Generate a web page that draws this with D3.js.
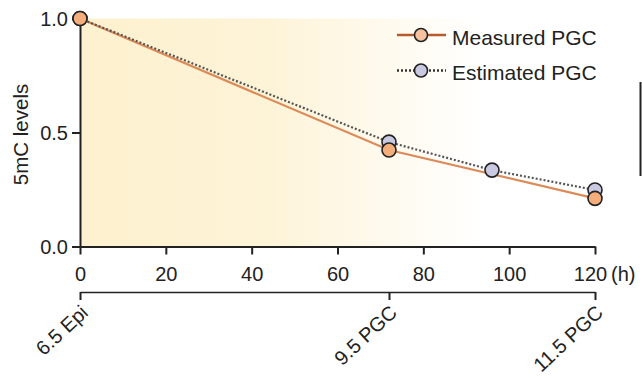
<!DOCTYPE html>
<html lang="en">
<head>
<meta charset="UTF-8">
<title>5mC levels</title>
<script src="https://d3js.org/d3.v7.min.js"></script>
<style>
  body { margin: 0; background: #fff; }
  text { font-family: "Liberation Sans", Arial, sans-serif; fill: #222; }
</style>
</head>
<body>
<svg id="chart" width="642" height="389"></svg>
<script>
// data
const measuredHours = [0, 72, 120];
const measuredLevels = [1.0, 0.423, 0.211];
const estimatedHours = [0, 72, 96, 120];
const estimatedLevels = [1.0, 0.458, 0.335, 0.248];
const hourTicks = [0, 20, 40, 60, 80, 100, 120];
const levelTicks = [0.0, 0.5, 1.0];
const stageHours = [0, 72, 120];
const stageLabels = ['6.5 Epi', '9.5 PGC', '11.5 PGC'];

const svg = d3.select('#chart');
const margin = { left: 80, top: 18.5, right: 47, bottom: 142.5 };
const W = 642, H = 389;

const x = d3.scaleLinear().domain([0, 120]).range([margin.left, W - margin.right]);
const y = d3.scaleLinear().domain([0, 1]).range([H - margin.bottom, margin.top]);

// background gradient
const defs = svg.append('defs');
const grad = defs.append('linearGradient').attr('id', 'bg').attr('x1', 0).attr('x2', 1).attr('y1', 0).attr('y2', 0);
grad.append('stop').attr('offset', '0%').attr('stop-color', '#fdf1cf');
grad.append('stop').attr('offset', '35%').attr('stop-color', '#fdf3d6');
grad.append('stop').attr('offset', '78%').attr('stop-color', '#ffffff');
grad.append('stop').attr('offset', '100%').attr('stop-color', '#ffffff');

svg.append('rect')
  .attr('x', x(0)).attr('y', y(1))
  .attr('width', x(120) - x(0)).attr('height', y(0) - y(1))
  .attr('fill', 'url(#bg)');

// axes
const fmt = d => d.toFixed(1);
const yAxis = svg.append('g')
  .attr('transform', `translate(${x(0)},0)`)
  .call(d3.axisLeft(y).tickValues(levelTicks).tickFormat(fmt).tickSize(8).tickSizeOuter(0));
yAxis.selectAll('text').attr('font-size', 20).attr('x', -12).attr('dy', '0.35em');

const xAxis = svg.append('g')
  .attr('transform', `translate(0,${y(0)})`)
  .call(d3.axisBottom(x).tickValues(hourTicks).tickSize(8).tickSizeOuter(0));
xAxis.selectAll('text').attr('font-size', 20).attr('y', 27).attr('dy', '0.35em')
  .attr('x', d => d === 120 ? -5 : 0);

[yAxis, xAxis].forEach(g => {
  g.attr('font-family', null);
  g.select('.domain').attr('stroke', '#222').attr('stroke-width', 2);
  g.selectAll('.tick line').attr('stroke', '#222').attr('stroke-width', 2);
});

svg.append('text')
  .attr('x', 611).attr('y', y(0) + 27).attr('dy', '0.35em')
  .attr('font-size', 20).text('(h)');

// stage axis
const stageY = 292;
const stageAxis = svg.append('g')
  .attr('transform', `translate(0,${stageY})`)
  .call(d3.axisBottom(x).tickValues(stageHours).tickSize(8).tickSizeOuter(0)
    .tickFormat((d, i) => stageLabels[i]));
stageAxis.attr('font-family', null);
stageAxis.select('.domain').attr('stroke', '#222').attr('stroke-width', 1.5);
stageAxis.selectAll('.tick line').attr('stroke', '#222').attr('stroke-width', 2);
stageAxis.selectAll('text')
  .attr('font-size', 20)
  .attr('text-anchor', 'end')
  .attr('transform', 'translate(4,17) rotate(-43)')
  .attr('y', 0).attr('dy', '0.35em');

// y label
svg.append('text')
  .attr('transform', `translate(28,${(y(0) + y(1)) / 2 + 2}) rotate(-90)`)
  .attr('text-anchor', 'middle')
  .attr('font-size', 20.5)
  .text('5mC levels');

// lines
const line = d3.line().x(d => x(d[0])).y(d => y(d[1]));
const measured = measuredHours.map((h, i) => [h, measuredLevels[i]]);
const estimated = estimatedHours.map((h, i) => [h, estimatedLevels[i]]);

svg.append('path').attr('d', line(measured))
  .attr('fill', 'none').attr('stroke', '#dd8a59').attr('stroke-width', 2.2);
svg.append('path').attr('d', line(estimated))
  .attr('fill', 'none').attr('stroke', '#555').attr('stroke-width', 2.2)
  .attr('stroke-dasharray', '2,2');

svg.selectAll('.est').data(estimated).enter().append('circle')
  .attr('class', 'est')
  .attr('cx', d => x(d[0])).attr('cy', d => y(d[1])).attr('r', 7)
  .attr('fill', '#c9c9e2').attr('stroke', '#222').attr('stroke-width', 1.6);
svg.selectAll('.meas').data(measured).enter().append('circle')
  .attr('class', 'meas')
  .attr('cx', d => x(d[0])).attr('cy', d => y(d[1])).attr('r', 7)
  .attr('fill', '#f4ae7c').attr('stroke', '#222').attr('stroke-width', 1.6);

// legend
const legend = [
  { label: 'Measured PGC', stroke: '#b75a2c', dash: null, fill: '#f6c39e', y: 35 },
  { label: 'Estimated PGC', stroke: '#333', dash: '2,2', fill: '#c9c9e2', y: 70.5 }
];
const lg = svg.selectAll('.lg').data(legend).enter().append('g').attr('class', 'lg')
  .attr('transform', d => `translate(397,${d.y})`);
lg.append('line').attr('x1', 0).attr('x2', 49)
  .attr('stroke', d => d.stroke).attr('stroke-width', 2.4)
  .attr('stroke-dasharray', d => d.dash);
lg.append('circle').attr('cx', 24).attr('r', 6.5)
  .attr('fill', d => d.fill).attr('stroke', '#222').attr('stroke-width', 1.6);
lg.append('text').attr('x', 55).attr('y', 2.5).attr('dy', '0.35em').attr('font-size', 21)
  .text(d => d.label);

// cropped border at right edge
svg.append('line').attr('x1', 640.5).attr('x2', 640.5).attr('y1', 82).attr('y2', 176)
  .attr('stroke', '#222').attr('stroke-width', 2);
</script>
</body>
</html>
